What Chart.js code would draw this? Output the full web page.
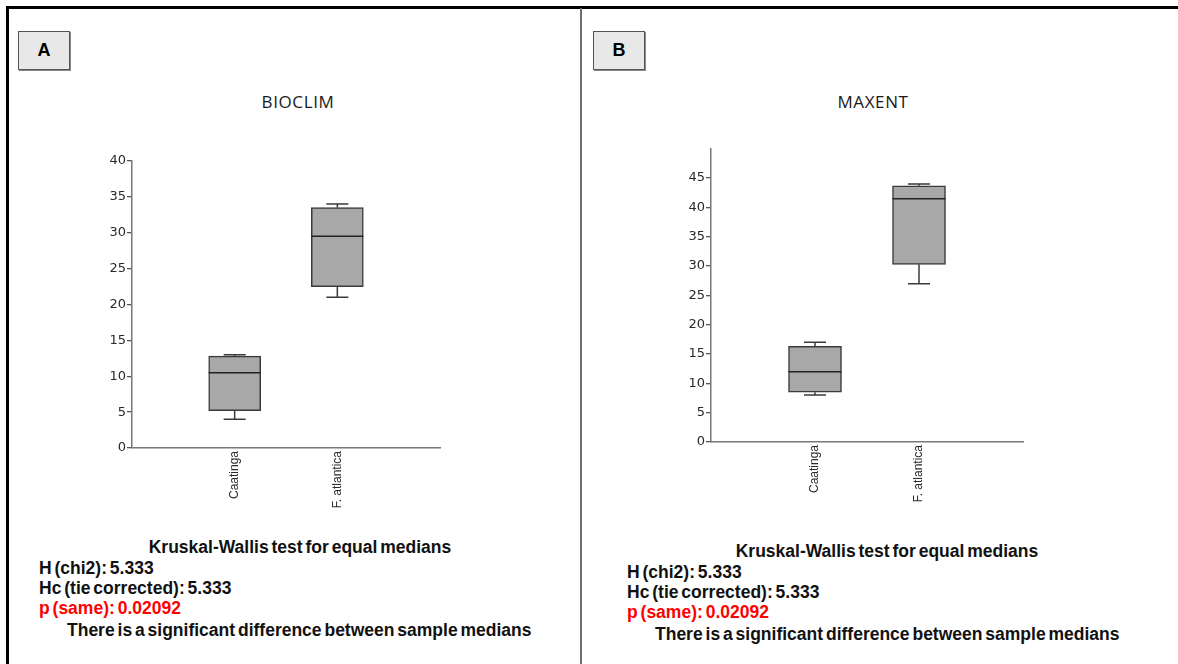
<!DOCTYPE html>
<html><head><meta charset="utf-8">
<script src="https://cdn.jsdelivr.net/npm/chart.js@4.4.1/dist/chart.umd.min.js"></script>
<style>
body{margin:0;width:1178px;height:664px;background:#fff;position:relative;overflow:hidden;font-family:"Liberation Sans",Arial,sans-serif;}
.abs{position:absolute;white-space:nowrap;}
.frameTop{left:6px;top:6px;width:1172px;height:3px;background:#000;}
.frameLeft{left:6px;top:6px;width:3px;height:658px;background:#000;}
.divider{left:580px;top:8px;width:1.5px;height:656px;background:#6e6e6e;}
.tag{width:50px;height:37px;background:#e8e8e8;border:1px solid #555;box-shadow:1px 1px 0 #888;font-weight:bold;font-size:18px;line-height:37px;text-align:center;color:#000;}
.title{font-family:"Open Sans",sans-serif;font-size:17px;letter-spacing:0.6px;line-height:20px;color:#1a1a1a;width:300px;text-align:center;}
.st{font-weight:bold;font-size:17.5px;line-height:20px;color:#111;letter-spacing:0;word-spacing:-2px;}
.red{color:#ff0000;}
.ctr{width:400px;text-align:center;}
canvas{position:absolute;}
</style></head>
<body>
<div class="abs frameTop"></div>
<div class="abs frameLeft"></div>
<div class="abs divider"></div>
<div class="abs tag" style="left:18px;top:31px;">A</div>
<div class="abs tag" style="left:593px;top:31px;">B</div>
<div class="abs title" style="left:148px;top:92px;">BIOCLIM</div>
<div class="abs title" style="left:723px;top:92px;">MAXENT</div>

<canvas id="cA" width="360" height="370" style="left:90px;top:150px;"></canvas>
<canvas id="cB" width="365" height="380" style="left:670px;top:140px;"></canvas>

<div class="abs st ctr" style="left:100px;top:537px;">Kruskal-Wallis test for equal medians</div>
<div class="abs st" style="left:39px;top:558px;">H (chi2): 5.333</div>
<div class="abs st" style="left:39px;top:578px;">Hc (tie corrected): 5.333</div>
<div class="abs st red" style="left:39px;top:598px;">p (same): 0.02092</div>
<div class="abs st" style="left:67px;top:620px;">There is a significant difference between sample medians</div>

<div class="abs st ctr" style="left:687px;top:541px;">Kruskal-Wallis test for equal medians</div>
<div class="abs st" style="left:627px;top:562px;">H (chi2): 5.333</div>
<div class="abs st" style="left:627px;top:582px;">Hc (tie corrected): 5.333</div>
<div class="abs st red" style="left:627px;top:602px;">p (same): 0.02092</div>
<div class="abs st" style="left:655px;top:624px;">There is a significant difference between sample medians</div>

<script>
const categories = ['Caatinga', 'F. atlantica'];

const bioclimMin    = [4.0, 21.0];
const bioclimQ1     = [5.2, 22.5];
const bioclimMedian = [10.5, 29.5];
const bioclimQ3     = [12.8, 33.5];
const bioclimMax    = [13.0, 34.0];
const bioclimTicks  = [0, 5, 10, 15, 20, 25, 30, 35, 40];

const maxentMin    = [8.0, 27.0];
const maxentQ1     = [8.5, 30.3];
const maxentMedian = [12.0, 41.5];
const maxentQ3     = [16.3, 43.7];
const maxentMax    = [17.0, 44.0];
const maxentTicks  = [0, 5, 10, 15, 20, 25, 30, 35, 40, 45];

const whiskerPlugin = {
  id: 'whiskers',
  afterDatasetsDraw(chart) {
    const st = chart.options.plugins.whiskers;
    const xs = chart.scales.x, ys = chart.scales.y;
    const ctx = chart.ctx;
    ctx.save();
    ctx.lineWidth = 1.5;
    for (let i = 0; i < st.mins.length; i++) {
      const x = xs.getPixelForValue(i + 1);
      const yMin = ys.getPixelForValue(st.mins[i]);
      const yQ1 = ys.getPixelForValue(st.q1[i]);
      const yQ3 = ys.getPixelForValue(st.q3[i]);
      const yMax = ys.getPixelForValue(st.maxs[i]);
      const yMed = ys.getPixelForValue(st.medians[i]);
      const cw = st.capWidth / 2, bw = st.boxWidth / 2;
      ctx.strokeStyle = '#3a3a3a';
      ctx.beginPath();
      ctx.moveTo(x, yQ1); ctx.lineTo(x, yMin);
      ctx.moveTo(x - cw, yMin); ctx.lineTo(x + cw, yMin);
      ctx.moveTo(x, yQ3); ctx.lineTo(x, yMax);
      ctx.moveTo(x - cw, yMax); ctx.lineTo(x + cw, yMax);
      ctx.stroke();
      ctx.strokeStyle = '#222';
      ctx.beginPath();
      ctx.moveTo(x - bw, yMed); ctx.lineTo(x + bw, yMed);
      ctx.stroke();
    }
    ctx.restore();
  }
};

function makeChart(id, mins, q1, med, q3, maxs, ticks, yMax, layout) {
  const labels = [''].concat(categories, ['']);
  const boxes = [null].concat(q1.map((v, i) => [v, q3[i]]), [null]);
  return new Chart(document.getElementById(id), {
    type: 'bar',
    data: {
      labels: labels,
      datasets: [{
        data: boxes,
        backgroundColor: '#a8a8a8',
        borderColor: '#3a3a3a',
        borderWidth: 1.5,
        borderSkipped: false,
        barThickness: layout.boxWidth
      }]
    },
    options: {
      responsive: false,
      animation: false,
      devicePixelRatio: 1,
      layout: { padding: { top: layout.top, right: layout.right, left: 0, bottom: 0 } },
      plugins: {
        legend: { display: false },
        tooltip: { enabled: false },
        whiskers: { mins: mins, q1: q1, q3: q3, maxs: maxs, medians: med, capWidth: 22, boxWidth: layout.boxWidth }
      },
      scales: {
        x: {
          type: 'category',
          offset: false,
          grid: { display: false, drawTicks: false },
          border: { display: true, color: '#777', width: 1.5 },
          ticks: {
            autoSkip: false, minRotation: 90, maxRotation: 90, padding: 3,
            color: '#2a2a2a', font: { family: 'Liberation Sans', size: 12 }
          },
          afterFit(s) { s.height = layout.xHeight; s.paddingLeft = 0; s.paddingRight = 0; }
        },
        y: {
          min: 0, max: yMax,
          grid: { drawOnChartArea: false, drawTicks: true, tickLength: 5, color: '#555', lineWidth: 1.3 },
          border: { display: true, color: '#777', width: 1.5 },
          ticks: {
            stepSize: 5, padding: 1, color: '#2a2a2a',
            font: { family: 'DejaVu Sans', size: 13 }
          },
          afterBuildTicks(s) { s.ticks = ticks.map(v => ({ value: v })); },
          afterFit(s) { s.width = layout.yWidth; }
        }
      }
    },
    plugins: [whiskerPlugin]
  });
}

makeChart('cA', bioclimMin, bioclimQ1, bioclimMedian, bioclimQ3, bioclimMax, bioclimTicks, 40,
  { top: 11, right: 10, xHeight: 72, yWidth: 42, boxWidth: 52 });
makeChart('cB', maxentMin, maxentQ1, maxentMedian, maxentQ3, maxentMax, maxentTicks, 50,
  { top: 8, right: 12, xHeight: 78, yWidth: 41, boxWidth: 53 });
</script>
</body></html>
